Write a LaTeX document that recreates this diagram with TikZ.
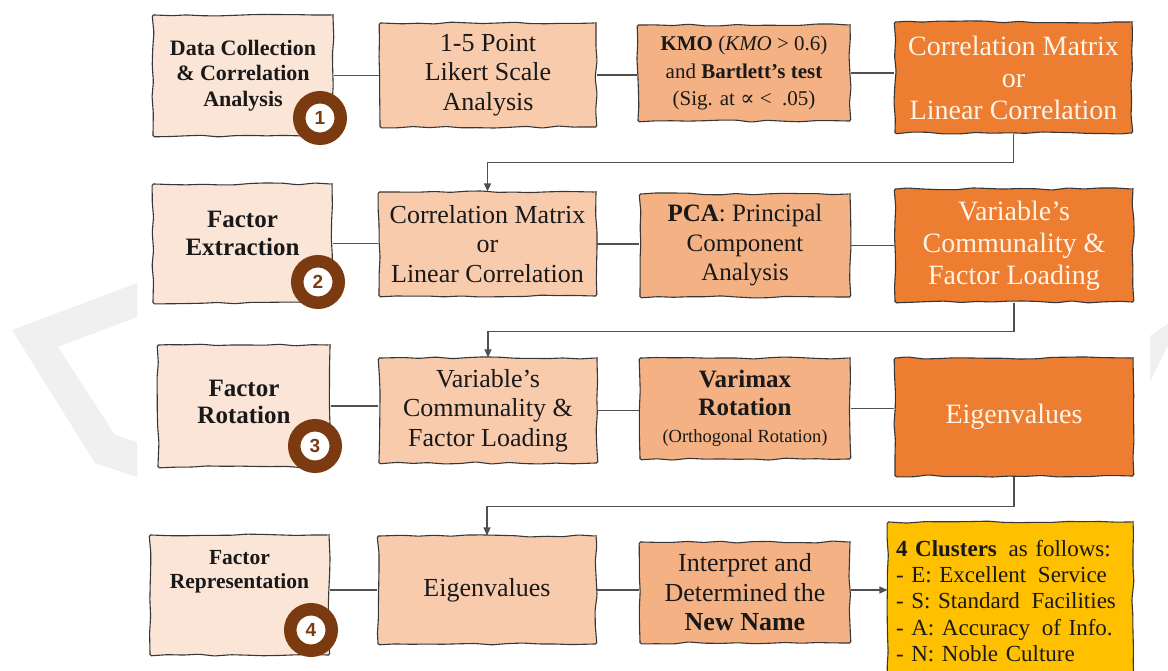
\documentclass[tikz,border=0pt]{standalone}
\usepackage{fontspec}
\setmainfont{DejaVu Serif}
\newfontfamily\libserif{Liberation Serif}
\newfontfamily\libsans{Liberation Sans}
\usetikzlibrary{decorations.pathmorphing,arrows.meta}

\definecolor{stepfill}{RGB}{251,229,214}
\definecolor{lightorange}{RGB}{248,203,173}
\definecolor{midorange}{RGB}{244,177,131}
\definecolor{deeporange}{RGB}{237,125,49}
\definecolor{gold}{RGB}{255,192,0}
\definecolor{badgebrown}{RGB}{123,58,16}
\definecolor{edgegray}{RGB}{55,55,55}
\definecolor{wm}{RGB}{240,240,240}
\definecolor{linkgray}{RGB}{80,80,80}
\definecolor{inkblack}{RGB}{25,25,25}
\definecolor{cream}{RGB}{255,244,232}

\tikzset{
  sketch/.style={draw=edgegray, line width=1.1pt, decorate,
    decoration={random steps, segment length=16pt, amplitude=1.1pt},
    rounded corners=1.5pt, inner sep=4pt, align=center, text=inkblack},
  phasebox/.style={sketch, fill=stepfill},
  phasetxt/.style={align=center, text=inkblack, inner sep=0pt},
  boxB/.style={sketch, fill=lightorange, font=\libserif\fontsize{26}{29.5}\selectfont},
  boxC/.style={sketch, fill=midorange},
  boxD/.style={sketch, fill=deeporange, text=cream, font=\libserif\fontsize{28}{32}\selectfont},
  boxE/.style={sketch, fill=gold, align=left, font=\libserif\fontsize{23}{26.3}\selectfont},
  badge/.style={circle, draw=badgebrown, line width=12.5pt, fill=white,
    minimum size=41.5pt, inner sep=0pt, text=badgebrown,
    font=\libsans\bfseries\fontsize{19}{19}\selectfont},
  link/.style={draw=linkgray, line width=1.2pt},
  arrowlink/.style={link, -{Triangle[length=8pt,width=7pt]}},
}

\begin{document}
\begin{tikzpicture}[x=1pt,y=-1pt]
\useasboundingbox (0,0) rectangle (1168,671);
\clip (0,0) rectangle (1168,671);
\fill[white] (0,0) rectangle (1168,671);

% faint background chevrons
\fill[wm] (137,283) -- (12,330) -- (95,463) -- (137,477) -- (137,442)
  -- (115,435) -- (58,347) -- (137,317) -- cycle;
\fill[wm] (1150,336) -- (1168,324) -- (1168,345) -- (1150,382) -- cycle;

\pgfmathsetseed{11}

% ---- row 1: data collection ----
\node[phasebox, minimum width=180pt, minimum height=121pt] (A1) at (243,75.5) {};
\node[phasetxt, font=\libserif\fontsize{22}{25.5}\selectfont\bfseries] (A1t) at (A1.center)
  {Data Collection\\\& Correlation\\Analysis};
\node[boxB, minimum width=216pt, minimum height=104pt] (B1) at (488,75)
  {1-5 Point\\Likert Scale\\Analysis};
\node[boxC, minimum width=212pt, minimum height=96pt, font=\libserif\fontsize{21}{27.5}\selectfont] (C1) at (744,73)
  {\textbf{KMO} (\textit{KMO} > 0.6)\\and \textbf{Bartlett’s test}\\(Sig. at {\rmfamily ∝} < \ .05)};
\node[boxD, minimum width=237pt, minimum height=111pt] (D1) at (1013.5,77.5)
  {Correlation Matrix\\or\\Linear Correlation};

% ---- row 2: factor extraction ----
\node[phasebox, minimum width=179pt, minimum height=119pt] (A2) at (242.5,243.5) {};
\node[phasetxt, font=\libserif\fontsize{25}{27.5}\selectfont\bfseries] (A2t) at ([yshift=10pt]A2.center)
  {Factor\\Extraction};
\node[boxB, minimum width=217pt, minimum height=104pt] (B2) at (487.5,244)
  {Correlation Matrix\\or\\Linear Correlation};
\node[boxC, minimum width=210pt, minimum height=103pt, font=\libserif\fontsize{25}{29.5}\selectfont] (C2) at (745,245.5)
  {\textbf{PCA}: Principal\\Component\\Analysis};
\node[boxD, minimum width=238pt, minimum height=113pt] (D2) at (1014,245.5)
  {Variable’s\\Communality \&\\Factor Loading};

% ---- row 3: factor rotation ----
\node[phasebox, minimum width=172pt, minimum height=122pt] (A3) at (244,406) {};
\node[phasetxt, font=\libserif\fontsize{25}{27.5}\selectfont\bfseries] (A3t) at ([yshift=4pt]A3.center)
  {Factor\\Rotation};
\node[boxB, minimum width=218pt, minimum height=105pt] (B3) at (488,410.5)
  {Variable’s\\Communality \&\\Factor Loading};
\node[boxC, minimum width=210pt, minimum height=101pt, font=\libserif\fontsize{25}{27.5}\selectfont] (C3) at (745,408.5)
  {\textbf{Varimax}\\\textbf{Rotation}\\{\fontsize{18.5}{22}\selectfont(Orthogonal Rotation)}};
\node[boxD, minimum width=238pt, minimum height=118pt] (D3) at (1014,417) {Eigenvalues};

% ---- row 4: factor representation ----
\node[phasebox, minimum width=179pt, minimum height=120pt] (A4) at (239.5,595) {};
\node[phasetxt, font=\libserif\fontsize{21.5}{24}\selectfont\bfseries] (A4t) at ([yshift=23pt]A4.center)
  {Factor\\Representation};
\node[boxB, minimum width=218pt, minimum height=108pt] (B4) at (487,590) {Eigenvalues};
\node[boxC, minimum width=210pt, minimum height=101pt, font=\libserif\fontsize{26}{29.5}\selectfont] (C4) at (745,592.5)
  {Interpret and\\Determined the\\\textbf{New Name}};
\node[boxE, minimum width=245pt, minimum height=158pt, text width=229pt] (D4) at (1010.5,601)
  {\textbf{4 Clusters}\hspace{4pt} as follows:\\
   - E: Excellent\hspace{4pt} Service\\
   - S: Standard\hspace{4pt} Facilities\\
   - A: Accuracy\hspace{4pt} of Info.\\
   - N: Noble Culture};

% ---- horizontal links within each row ----
\foreach \r in {1,2,3}{
  \draw[link] (A\r.east) -- (A\r.east -| B\r.west);
  \draw[link] (B\r.east) -- (B\r.east -| C\r.west);
  \draw[link] (C\r.east) -- (C\r.east -| D\r.west);
}
\draw[link] (A4.east |- B4.center) -- (B4.west);
\draw[link] (B4.east) -- (B4.east -| C4.west);
\draw[arrowlink] (C4.east |- B4.center) -- (B4.center -| D4.west);

% ---- links from the end of one row to the next ----
\draw[arrowlink] (D1.south) -- ++(0,29) -| (B2.north);
\draw[arrowlink] (D2.south) -- ++(0,29) -| (B3.north);
\draw[arrowlink] (D3.south) -- ++(0,30) -| (B4.north);

% ---- step badges ----
\node[badge] (N1) at (320,118) {1};
\node[badge] (N2) at (318,282) {2};
\node[badge] (N3) at (315,446) {3};
\node[badge] (N4) at (311,630) {4};
\end{tikzpicture}
\end{document}
